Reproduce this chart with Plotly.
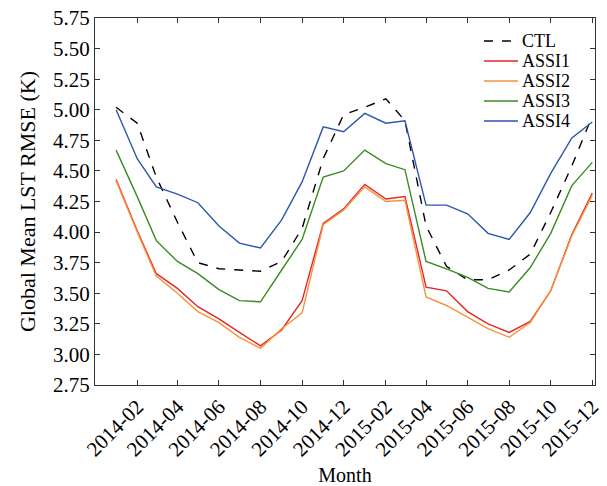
import plotly.graph_objects as go

months = ["2014-01", "2014-02", "2014-03", "2014-04", "2014-05", "2014-06",
          "2014-07", "2014-08", "2014-09", "2014-10", "2014-11", "2014-12",
          "2015-01", "2015-02", "2015-03", "2015-04", "2015-05", "2015-06",
          "2015-07", "2015-08", "2015-09", "2015-10", "2015-11", "2015-12"]

ctl = [5.02, 4.89, 4.45, 4.08, 3.75, 3.70, 3.69, 3.68, 3.76, 4.03, 4.60, 4.96,
       5.02, 5.09, 4.91, 4.05, 3.72, 3.61, 3.61, 3.69, 3.82, 4.16, 4.54, 4.95]
assi1 = [4.43, 4.01, 3.66, 3.54, 3.39, 3.29, 3.18, 3.07, 3.20, 3.44, 4.07, 4.19,
         4.39, 4.27, 4.29, 3.55, 3.52, 3.35, 3.25, 3.18, 3.27, 3.52, 3.98, 4.32]
assi2 = [4.42, 4.00, 3.64, 3.50, 3.35, 3.26, 3.14, 3.05, 3.21, 3.34, 4.06, 4.18,
         4.37, 4.25, 4.26, 3.47, 3.40, 3.30, 3.21, 3.14, 3.26, 3.52, 3.97, 4.30]
assi3 = [4.67, 4.29, 3.93, 3.76, 3.66, 3.53, 3.44, 3.43, 3.69, 3.94, 4.45, 4.50,
         4.67, 4.56, 4.51, 3.76, 3.70, 3.63, 3.54, 3.51, 3.71, 3.99, 4.38, 4.57]
assi4 = [5.00, 4.60, 4.37, 4.31, 4.24, 4.05, 3.91, 3.87, 4.10, 4.41, 4.86, 4.82,
         4.97, 4.89, 4.91, 4.22, 4.22, 4.15, 3.99, 3.94, 4.16, 4.48, 4.77, 4.90]

series_names = ["CTL", "ASSI1", "ASSI2", "ASSI3", "ASSI4"]
series_values = [ctl, assi1, assi2, assi3, assi4]
series_colors = ["black", "#e3262a", "#f7923a", "#3d8a24", "#2d55ae"]
series_dashes = ["dash", "solid", "solid", "solid", "solid"]

tick_months = months[1::2]
y_ticks = [2.75, 3.00, 3.25, 3.50, 3.75, 4.00, 4.25, 4.50, 4.75, 5.00, 5.25, 5.50, 5.75]

# plot area in pixels (for placing the compact legend)
W, H = 607, 486
L, R, T, B = 95, 12, 18, 101
pw, ph = W - L - R, H - T - B

fig = go.Figure()
for name, vals, color, dash in zip(series_names, series_values, series_colors, series_dashes):
    fig.add_trace(go.Scatter(x=months, y=vals, mode="lines", name=name,
                             line=dict(color=color, width=1.4, dash=dash)))

# compact legend drawn in paper coordinates
shapes, annotations = [], []
for i, (name, color, dash) in enumerate(zip(series_names, series_colors, series_dashes)):
    py = 41 + 20 * i
    yp = 1 - (py - T) / ph
    shapes.append(dict(type="line", xref="paper", yref="paper",
                       x0=(484 - L) / pw, x1=(518 - L) / pw, y0=yp, y1=yp,
                       line=dict(color=color, width=1.4, dash=dash)))
    annotations.append(dict(text=name, xref="paper", yref="paper",
                            x=(521 - L) / pw, y=yp, xanchor="left", yanchor="middle",
                            showarrow=False, borderpad=0, font=dict(size=18)))

font_family = "Liberation Serif, Times New Roman, serif"
fig.update_layout(
    width=W, height=H,
    margin=dict(l=L, r=R, t=T, b=B),
    paper_bgcolor="white", plot_bgcolor="white",
    font=dict(family=font_family, size=20, color="black"),
    showlegend=False,
    shapes=shapes, annotations=annotations,
)
fig.update_xaxes(
    type="date", range=["2013-12-01", "2015-12-05"],
    tickvals=tick_months, ticktext=tick_months, tickangle=-45,
    ticks="inside", ticklen=5, tickcolor="#333", mirror="ticks",
    showline=True, linecolor="#333", linewidth=1.2, showgrid=False,
    tickfont=dict(size=21), automargin=False,
    title=dict(text="Month", font=dict(size=20), standoff=12),
)
fig.update_yaxes(
    range=[2.75, 5.75], tickvals=y_ticks,
    ticktext=[f"{v:.2f}" for v in y_ticks],
    ticks="inside", ticklen=5, tickcolor="#333", mirror="ticks",
    showline=True, linecolor="#333", linewidth=1.2, showgrid=False,
    zeroline=False, tickfont=dict(size=21), automargin=False,
    title=dict(text="Global Mean LST RMSE (K)", font=dict(size=22), standoff=11),
)
fig.write_html("out.html")
